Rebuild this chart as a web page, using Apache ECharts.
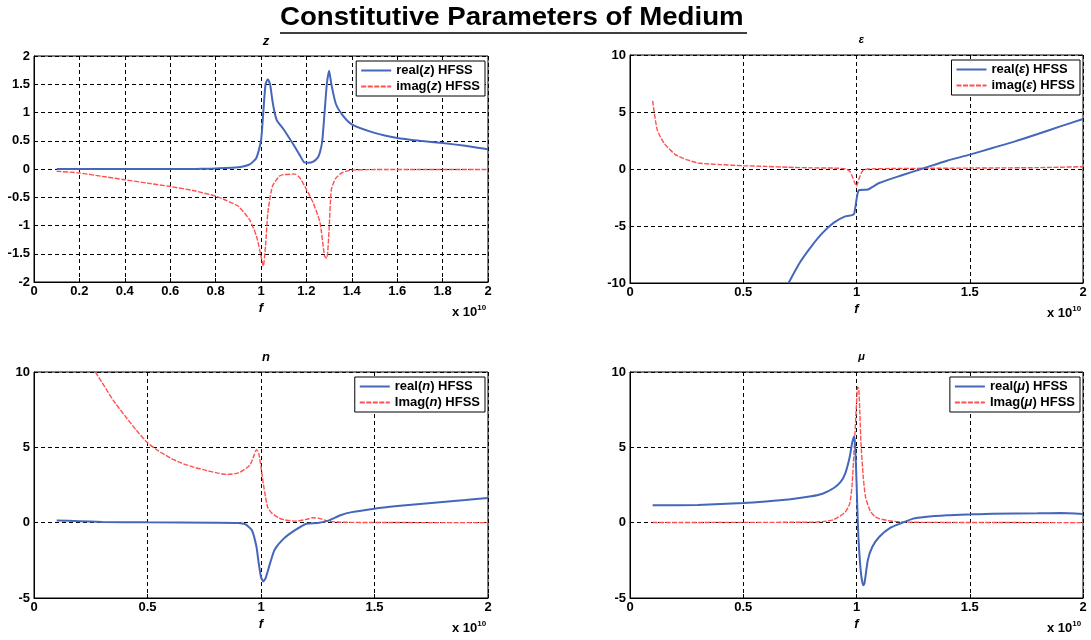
<!DOCTYPE html>
<html>
<head>
<meta charset="utf-8">
<script src="https://cdn.jsdelivr.net/npm/echarts@6/dist/echarts.min.js"></script>
<style>
  html, body { margin: 0; padding: 0; background: #fff; }
  #chart { width: 1091px; height: 640px; }
</style>
</head>
<body>
<div id="chart"></div>
<script>
// Frequency values are in units of 1e10 Hz.

// z (impedance)
const zReF = [0.1,0.3,0.5,0.7,0.75,0.8,0.9,0.95,0.98,1.0,1.01,1.02,1.03,1.04,1.05,1.06,1.07,1.1,1.14,1.17,1.19,1.21,1.23,1.25,1.26,1.27,1.28,1.29,1.3,1.31,1.33,1.36,1.4,1.5,1.6,1.7,1.8,1.9,2.0];
const zReV = [0,0,0,0,0.005,0.01,0.03,0.08,0.2,0.5,1.0,1.5,1.59,1.5,1.22,1.0,0.86,0.7,0.45,0.25,0.12,0.11,0.13,0.2,0.3,0.5,1.0,1.5,1.74,1.5,1.15,0.95,0.79,0.64,0.55,0.5,0.46,0.41,0.35];
const zImF = [0.1,0.2,0.3,0.4,0.5,0.6,0.7,0.8,0.85,0.9,0.95,0.98,1.0,1.01,1.02,1.03,1.05,1.08,1.1,1.15,1.17,1.2,1.23,1.26,1.28,1.29,1.3,1.31,1.33,1.36,1.4,1.5,1.7,2.0];
const zImV = [-0.04,-0.07,-0.13,-0.19,-0.25,-0.31,-0.38,-0.48,-0.56,-0.66,-0.9,-1.19,-1.54,-1.72,-1.36,-0.78,-0.31,-0.13,-0.1,-0.09,-0.15,-0.36,-0.6,-0.95,-1.54,-1.58,-1.07,-0.36,-0.16,-0.06,-0.02,-0.01,-0.01,-0.01];

// epsilon (permittivity)
const eReF = [0.7,0.75,0.8,0.85,0.9,0.95,0.98,0.99,1.0,1.01,1.05,1.1,1.2,1.3,1.4,1.5,1.6,1.7,1.8,1.9,2.0];
const eReV = [-10,-8.2,-6.8,-5.6,-4.7,-4.15,-4.05,-3.9,-2.7,-1.87,-1.8,-1.23,-0.55,0.09,0.73,1.26,1.84,2.42,3.07,3.74,4.38];
const eImF = [0.1,0.12,0.15,0.2,0.25,0.3,0.4,0.5,0.6,0.7,0.8,0.9,0.95,0.97,0.98,0.99,1.0,1.01,1.02,1.03,1.05,1.2,1.5,1.8,2.0];
const eImV = [5.98,3.45,2.28,1.26,0.82,0.53,0.38,0.29,0.23,0.15,0.1,0.08,0.02,-0.2,-0.6,-1.1,-1.5,-0.9,-0.4,-0.1,0.0,0.05,0.08,0.12,0.2];

// n (refractive index)
const nReF = [0.1,0.2,0.3,0.5,0.8,0.9,0.93,0.96,0.98,0.99,1.0,1.01,1.02,1.04,1.06,1.1,1.15,1.2,1.25,1.3,1.35,1.4,1.5,1.6,1.7,1.8,1.9,2.0];
const nReV = [0.15,0.1,0.05,0.02,0,-0.02,-0.1,-0.5,-1.6,-2.7,-3.6,-3.9,-3.7,-2.7,-1.8,-1.06,-0.5,-0.07,-0.02,0.15,0.49,0.7,0.93,1.1,1.24,1.37,1.5,1.64];
const nImF = [0.27,0.3,0.35,0.4,0.45,0.5,0.55,0.6,0.65,0.7,0.75,0.8,0.85,0.9,0.95,0.97,0.98,0.99,1.0,1.01,1.02,1.03,1.05,1.08,1.1,1.15,1.2,1.23,1.26,1.3,1.35,1.4,1.5,2.0];
const nImV = [10,9.3,8.1,7.1,6.15,5.3,4.75,4.3,3.95,3.7,3.5,3.32,3.2,3.3,3.8,4.5,4.85,4.6,3.7,2.6,1.7,1.0,0.6,0.3,0.2,0.1,0.22,0.33,0.27,0.09,0.03,0.02,0.01,0];

// mu (permeability)
const mReF = [0.1,0.3,0.5,0.6,0.7,0.8,0.85,0.9,0.93,0.95,0.97,0.98,0.99,0.995,1.0,1.005,1.01,1.02,1.03,1.035,1.05,1.07,1.1,1.15,1.2,1.25,1.3,1.4,1.5,1.6,1.8,1.9,2.0];
const mReV = [1.15,1.18,1.3,1.4,1.53,1.75,1.92,2.3,2.7,3.25,4.36,5.24,5.73,4.8,2.8,0.37,-1.4,-3.4,-4.16,-4.05,-2.5,-1.6,-0.95,-0.33,-0.02,0.27,0.38,0.49,0.55,0.6,0.62,0.64,0.58];
const mImF = [0.1,0.5,0.8,0.85,0.9,0.95,0.97,0.98,0.99,1.0,1.005,1.01,1.015,1.02,1.03,1.04,1.06,1.08,1.1,1.15,1.2,1.3,2.0];
const mImV = [0.01,0.02,0.03,0.07,0.2,0.7,1.26,2.4,5.0,7.9,9.0,8.9,7.2,5.2,3.0,1.7,0.8,0.42,0.27,0.11,0.05,0.02,0];

const panelTitles = ['z', 'ε', 'n', 'μ'];
const yRanges = [[-2, 2, 0.5], [-10, 10, 5], [-5, 10, 5], [-5, 10, 5]];
const xSteps = [0.2, 0.5, 0.5, 0.5];
const legendNames = [
  ['real(z) HFSS', 'imag(z) HFSS'],
  ['real(ε) HFSS', 'imag(ε) HFSS'],
  ['real(n) HFSS', 'Imag(n) HFSS'],
  ['real(μ) HFSS', 'Imag(μ) HFSS']
];
const seriesData = [
  [zReF, zReV, zImF, zImV],
  [eReF, eReV, eImF, eImV],
  [nReF, nReV, nImF, nImV],
  [mReF, mReV, mImF, mImV]
];

const FONT = '"Liberation Sans", Arial, sans-serif';
const BLUE = '#4466bb';
const RED = '#ff5050';

const grids = [
  { left: 34, top: 56, width: 454, height: 226 },
  { left: 630, top: 55, width: 453, height: 228 },
  { left: 34, top: 372, width: 454, height: 226 },
  { left: 630, top: 372, width: 453, height: 226 }
];

const pairs = (xs, ys) => xs.map((x, i) => [x, ys[i]]);
const gridLine = { show: true, lineStyle: { color: '#000', type: [4, 3], width: 1 } };
const tickFmt = v => String(Math.round(v * 100) / 100);

const xAxes = [], yAxes = [], series = [], legends = [], titles = [], graphics = [];

grids.forEach((g, i) => {
  g.show = true; g.borderColor = '#000'; g.borderWidth = 1; g.backgroundColor = '#fff';
  xAxes.push({
    type: 'value', gridIndex: i, min: 0, max: 2, interval: xSteps[i],
    axisLine: { show: true, onZero: false, lineStyle: { color: '#000', width: 1 } },
    axisTick: { show: true, inside: true, length: 4, lineStyle: { color: '#000' } },
    axisLabel: { color: '#000', fontFamily: FONT, fontWeight: 'bold', fontSize: 13, margin: 3, formatter: tickFmt },
    splitLine: gridLine,
    name: 'f', nameLocation: 'middle', nameGap: 20,
    nameTextStyle: { color: '#000', fontFamily: FONT, fontWeight: 'bold', fontStyle: 'italic', fontSize: 13 }
  });
  const [ymin, ymax, yint] = yRanges[i];
  yAxes.push({
    type: 'value', gridIndex: i, min: ymin, max: ymax, interval: yint,
    axisLine: { show: true, onZero: false, lineStyle: { color: '#000', width: 1 } },
    axisTick: { show: true, inside: true, length: 4, lineStyle: { color: '#000' } },
    axisLabel: { color: '#000', fontFamily: FONT, fontWeight: 'bold', fontSize: 13, margin: 4, formatter: tickFmt },
    splitLine: gridLine
  });
  const [rf, rv, imf, imv] = seriesData[i];
  series.push({
    name: legendNames[i][0], type: 'line', xAxisIndex: i, yAxisIndex: i,
    data: pairs(rf, rv), symbol: 'none', smooth: 0.2, clip: true,
    lineStyle: { color: BLUE, width: 2 }, itemStyle: { color: BLUE }, z: 3
  });
  series.push({
    name: legendNames[i][1], type: 'line', xAxisIndex: i, yAxisIndex: i,
    data: pairs(imf, imv), symbol: 'none', smooth: 0.2, clip: true,
    lineStyle: { color: RED, width: 1.4, type: [5, 1.5] }, itemStyle: { color: RED }, z: 2
  });
  const rightEdge = 1091 - (g.left + g.width) + 3;
  legends.push({
    data: legendNames[i], orient: 'vertical', right: rightEdge, top: g.top + 5,
    backgroundColor: '#fff', borderColor: '#000', borderWidth: 1,
    padding: [3, 5, 3, 4], itemGap: 3, itemWidth: 30, itemHeight: 14,
    itemStyle: { opacity: 0 },
    textStyle: { color: '#000', fontFamily: FONT, fontWeight: 'bold', fontSize: 13,
      rich: { v: { fontFamily: FONT, fontWeight: 'bold', fontStyle: 'italic', fontSize: 13, color: '#000' } } },
    formatter: name => name.replace(/\((.)\)/, '({v|$1})')
  });
  titles.push({
    text: panelTitles[i], left: g.left + g.width / 2, top: g.top - 26, textAlign: 'center',
    textStyle: { color: '#000', fontFamily: FONT, fontWeight: 'bold', fontStyle: 'italic', fontSize: i % 2 ? 11 : 13 }
  });
  graphics.push({
    type: 'text', left: g.left + g.width - 36, top: g.top + g.height + 22,
    style: {
      text: '{b|x 10}{s|10}', fill: '#000',
      rich: {
        b: { fontFamily: FONT, fontWeight: 'bold', fontSize: 13, fill: '#000' },
        s: { fontFamily: FONT, fontWeight: 'bold', fontSize: 8, fill: '#000', verticalAlign: 'top', padding: [0, 0, 8, 0] }
      }
    }
  });
});

// main heading, slightly widened, with its underline
graphics.push({
  type: 'text', x: 280, y: 6, scaleX: 1.105,
  style: {
    text: 'Constitutive Parameters of Medium', fill: '#000',
    font: 'bold 25px ' + FONT, textVerticalAlign: 'top'
  }
});
graphics.push({
  type: 'line', shape: { x1: 280, y1: 33, x2: 747, y2: 33 },
  style: { stroke: '#000', lineWidth: 1.5 }
});

const chart = echarts.init(document.getElementById('chart'), null, { renderer: 'canvas' });
chart.setOption({
  backgroundColor: '#fff',
  animation: false,
  title: titles,
  grid: grids,
  xAxis: xAxes,
  yAxis: yAxes,
  legend: legends,
  series: series,
  graphic: graphics
});
</script>
</body>
</html>
